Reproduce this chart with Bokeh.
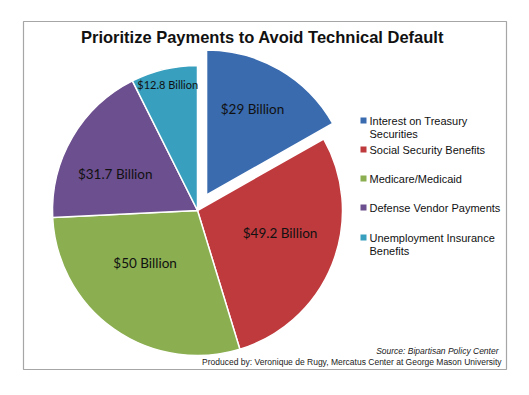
import math
from bokeh.plotting import figure
from bokeh.models import ColumnDataSource, Range1d
from bokeh.core.properties import value
from bokeh.embed import file_html
from bokeh.resources import INLINE

title = "Prioritize Payments to Avoid Technical Default"
categories = ["Interest on Treasury Securities", "Social Security Benefits",
              "Medicare/Medicaid", "Defense Vendor Payments",
              "Unemployment Insurance Benefits"]
legend_lines = [["Interest on Treasury", "Securities"], ["Social Security Benefits"],
                ["Medicare/Medicaid"], ["Defense Vendor Payments"],
                ["Unemployment Insurance", "Benefits"]]
values = [29, 49.2, 50, 31.7, 12.8]
labels = ["$29 Billion", "$49.2 Billion", "$50 Billion", "$31.7 Billion", "$12.8 Billion"]
colors = ["#3a6baf", "#bf3a3d", "#8aae50", "#6c4f8e", "#389fbe"]
explode = [1, 0, 0, 0, 0]
source_text = "Source: Bipartisan Policy Center"
produced_text = "Produced by: Veronique de Rugy, Mercatus Center at George Mason University"

W, H = 529, 395
p = figure(width=W, height=H, output_backend="svg", toolbar_location=None,
           x_range=Range1d(0, W), y_range=Range1d(0, H),
           x_axis_type=None, y_axis_type=None, min_border=0)
p.grid.visible = False
p.outline_line_color = None
p.background_fill_color = "white"
p.border_fill_color = "white"

# chart border
p.quad(left=[23], right=[506], bottom=[H - 369], top=[H - 21],
       fill_color=None, line_color="#a6a6a6", line_width=1.2)

cx, cy, r = 197, H - 210, 145
total = sum(values)
starts, ends, xs, ys = [], [], [], []
lx, ly = [], []
cum = 0.0
label_r = [0.67, 0.59, 0.51, 0.62, 0.89]
label_da = [2, 6.5, -10, 6.5, 0]  # degrees, placement tweak
for i, v in enumerate(values):
    a0 = math.pi / 2 - 2 * math.pi * cum / total
    cum += v
    a1 = math.pi / 2 - 2 * math.pi * cum / total
    mid = (a0 + a1) / 2
    off = 18 * explode[i]
    x0 = cx + off * math.cos(mid)
    y0 = cy + off * math.sin(mid)
    starts.append(a1)
    ends.append(a0)
    xs.append(x0)
    ys.append(y0)
    la = mid + math.radians(label_da[i])
    lx.append(x0 + r * label_r[i] * math.cos(la))
    ly.append(y0 + r * label_r[i] * math.sin(la))

src = ColumnDataSource(dict(x=xs, y=ys, start=starts, end=ends, color=colors,
                            lx=lx, ly=ly, label=labels,
                            fs=["13.5px", "13.5px", "13.5px", "13.5px", "11px"]))
p.wedge(x="x", y="y", radius=r, start_angle="start", end_angle="end",
        fill_color="color", line_color="white", line_width=1.5, source=src)
p.text(x="lx", y="ly", text="label", text_align="center", text_baseline="middle",
       text_font=value("Lato"), text_font_size="fs", text_color="#111111", source=src)

# title
p.text(x=[262], y=[H - 36], text=[title], text_align="center", text_baseline="middle",
       text_font=value("Liberation Sans"), text_font_style="bold",
       text_font_size="16.5px", text_color="#111111")

# legend
ly0 = [120, 149, 178, 207, 237]
sq_x, sq_y, sq_c = [], [], []
tx, ty, tt = [], [], []
for i, lines in enumerate(legend_lines):
    sq_x.append(363)
    sq_y.append(H - ly0[i])
    sq_c.append(colors[i])
    for j, line in enumerate(lines):
        tx.append(369)
        ty.append(H - (ly0[i] + 13 * j))
        tt.append(line)
p.scatter(x=sq_x, y=sq_y, marker="square", size=6, fill_color=sq_c, line_color=None)
p.text(x=tx, y=ty, text=tt, text_align="left", text_baseline="middle",
       text_font=value("Liberation Sans"), text_font_size="11px", text_color="#111111")

# footer
p.text(x=[498], y=[H - 350], text=[source_text], text_align="right", text_baseline="middle",
       text_font=value("Liberation Sans"), text_font_style="italic",
       text_font_size="8.5px", text_color="#222222")
p.text(x=[501], y=[H - 361], text=[produced_text], text_align="right", text_baseline="middle",
       text_font=value("Liberation Sans"), text_font_size="8.5px", text_color="#222222")

open("out.html", "w").write(file_html(p, INLINE))
